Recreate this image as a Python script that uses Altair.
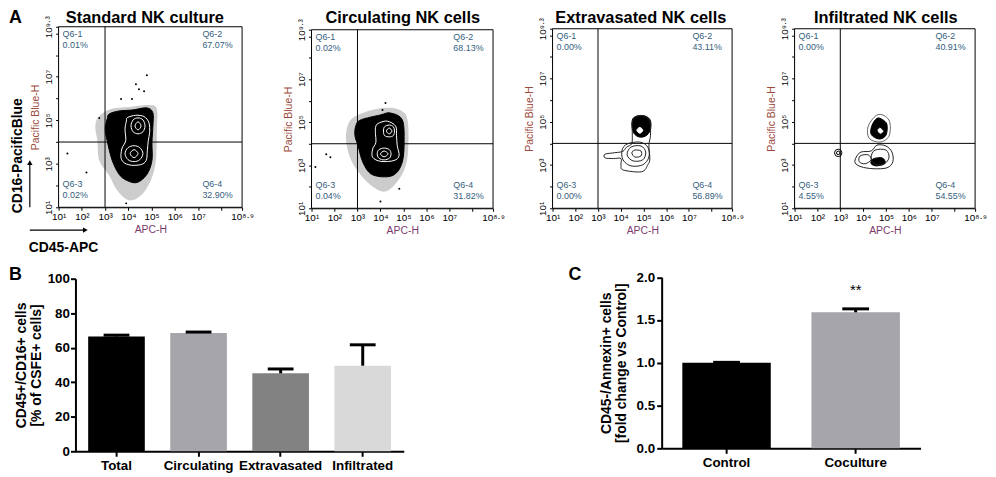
import altair as alt
import pandas as pd

W, H = 988, 469
FONT = "Liberation Sans"

# ---------------- Panel A: values ----------------
flow_titles = ["Standard NK culture", "Circulating NK cells",
               "Extravasated NK cells", "Infiltrated NK cells"]
q1_pct = ["0.01%", "0.02%", "0.00%", "0.00%"]
q2_pct = ["67.07%", "68.13%", "43.11%", "40.91%"]
q3_pct = ["0.02%", "0.04%", "0.00%", "4.55%"]
q4_pct = ["32.90%", "31.82%", "56.89%", "54.55%"]
gate_x = [3.0, 3.0, 3.0, 3.0]      # log10(APC-H) gate
gate_y = [4.0, 4.0, 4.0, 4.0]      # log10(Pacific Blue-H) gate
x_ticks = [1, 2, 3, 4, 5, 6, 7, 8, 8.9]
x_tick_labels = ["10¹", "10²", "10³", "10⁴", "10⁵", "10⁶", "10⁷", "", "10⁸·⁹"]
y_ticks = [1, 2, 3, 4, 5, 6, 7, 8, 9, 9.3]
y_tick_labels = ["10¹", "", "10³", "", "10⁵", "", "10⁷", "", "", "10⁹·³"]

# contour outlines, in decades (log10 of intensity)
p1_halo_x = [2.75, 3.26, 4.03, 4.89, 5.23, 5.23, 5.19, 4.97, 4.55, 4.03, 3.52, 3.18, 2.75, 2.67, 2.58]
p1_halo_y = [5.20, 5.52, 5.61, 5.70, 5.52, 4.52, 3.15, 2.23, 1.55, 1.32, 1.78, 2.46, 3.15, 4.06, 4.74]
p1_blob_x = [3.09, 3.18, 3.61, 4.16, 4.80, 5.06, 5.06, 5.02, 5.02, 4.80, 4.38, 3.95, 3.61, 3.31, 3.09, 3.01]
p1_blob_y = [5.06, 5.29, 5.43, 5.47, 5.57, 5.34, 4.74, 3.97, 3.15, 2.51, 2.14, 2.23, 2.51, 3.15, 4.06, 4.61]
p1_outer_x = [3.96, 4.32, 4.68, 4.89, 4.92, 4.86, 4.82, 4.77, 4.53, 4.03, 3.71, 3.72, 3.89, 3.86, 3.92]
p1_outer_y = [5.12, 5.23, 5.17, 4.89, 4.44, 4.06, 3.60, 3.15, 2.96, 2.95, 3.19, 3.68, 4.06, 4.59, 4.97]
p1_up1_x = [4.42, 4.63, 4.72, 4.63, 4.42, 4.21, 4.12, 4.21]
p1_up1_y = [5.11, 5.02, 4.74, 4.47, 4.38, 4.47, 4.74, 5.02]
p1_up2_x = [4.42, 4.55, 4.42, 4.29]
p1_up2_y = [4.93, 4.74, 4.56, 4.74]
p1_lo1_x = [4.25, 4.50, 4.63, 4.50, 4.25, 3.99, 3.86, 3.99]
p1_lo1_y = [3.83, 3.74, 3.47, 3.19, 3.10, 3.19, 3.47, 3.74]
p1_lo2_x = [4.25, 4.42, 4.25, 4.08]
p1_lo2_y = [3.65, 3.47, 3.28, 3.47]
p1_dots_x = [4.33, 4.80, 4.68, 4.46, 3.69, 4.16, 1.38, 2.20, 2.75, 3.91]
p1_dots_y = [6.66, 7.07, 6.34, 6.43, 5.98, 5.98, 3.47, 2.60, 5.11, 1.18]

p2_halo_x = [2.67, 3.23, 4.09, 4.73, 5.16, 5.21, 5.08, 4.73, 4.22, 3.66, 3.10, 2.67, 2.50]
p2_halo_y = [5.06, 5.43, 5.66, 5.61, 5.20, 3.83, 2.92, 2.23, 1.78, 2.00, 2.60, 3.37, 4.29]
p2_blob_x = [2.93, 3.15, 4.00, 4.43, 4.95, 5.03, 4.95, 4.65, 4.18, 3.58, 3.23, 3.02, 2.89]
p2_blob_y = [4.84, 5.11, 5.34, 5.43, 5.11, 4.06, 3.15, 2.60, 2.46, 2.60, 3.15, 3.92, 4.38]
p2_outer_x = [3.95, 4.30, 4.66, 4.70, 4.73, 4.81, 4.59, 4.02, 3.66, 3.66, 3.80, 3.78, 3.80]
p2_outer_y = [4.97, 5.05, 4.82, 4.37, 3.91, 3.45, 3.22, 3.18, 3.37, 3.75, 4.06, 4.52, 4.82]
p2_up1_x = [4.38, 4.56, 4.61, 4.56, 4.38, 4.18, 4.13, 4.18]
p2_up1_y = [4.87, 4.79, 4.59, 4.38, 4.32, 4.38, 4.59, 4.79]
p2_up2_x = [4.38, 4.50, 4.38, 4.26]
p2_up2_y = [4.73, 4.59, 4.46, 4.59]
p2_lo1_x = [4.16, 4.39, 4.46, 4.39, 4.16, 3.93, 3.86, 3.93]
p2_lo1_y = [3.80, 3.72, 3.53, 3.33, 3.25, 3.33, 3.53, 3.72]
p2_lo2_x = [4.16, 4.33, 4.16, 4.00]
p2_lo2_y = [3.66, 3.53, 3.39, 3.53]
p2_dots_x = [4.22, 4.09, 1.64, 1.82, 1.17, 4.00, 4.82]
p2_dots_y = [5.89, 5.57, 3.51, 3.37, 2.92, 1.32, 1.91]

p3_outer_x = [4.11, 4.92, 5.19, 5.28, 5.24, 5.31, 5.28, 5.06, 4.70, 4.51, 4.51, 4.48, 4.26, 4.09, 3.75, 3.31, 3.31, 3.68, 4.01, 4.01]
p3_outer_y = [2.77, 2.69, 3.01, 3.28, 3.92, 4.38, 4.97, 5.25, 5.25, 4.97, 4.38, 3.98, 3.83, 3.63, 3.57, 3.50, 3.33, 3.30, 3.30, 3.00]
p3_dense_x = [4.58, 4.97, 5.28, 5.32, 5.15, 4.84, 4.58, 4.49]
p3_dense_y = [5.20, 5.29, 5.11, 4.70, 4.38, 4.29, 4.47, 4.88]
p3_inner_x = [4.67, 5.15, 5.19, 4.89, 4.62]
p3_inner_y = [5.06, 5.02, 4.61, 4.42, 4.65]
p3_hole_x = [4.84, 4.97, 4.84, 4.71]
p3_hole_y = [4.74, 4.61, 4.47, 4.61]
p3_ringa_x = [4.28, 4.84, 5.19, 5.24, 4.97, 4.45, 4.10, 4.06]
p3_ringa_y = [3.97, 4.06, 3.83, 3.37, 3.01, 2.96, 3.24, 3.69]
p3_ringb_x = [4.45, 4.89, 5.10, 4.97, 4.54, 4.28]
p3_ringb_y = [3.83, 3.88, 3.60, 3.24, 3.19, 3.47]
p3_ringc_x = [4.62, 4.89, 4.89, 4.62, 4.49]
p3_ringc_y = [3.69, 3.65, 3.42, 3.37, 3.56]

p4_updense_x = [4.61, 4.83, 5.04, 5.00, 4.70, 4.35, 4.39]
p4_updense_y = [5.16, 5.11, 4.88, 4.38, 4.20, 4.42, 4.84]
p4_upouter_x = [4.57, 4.91, 5.17, 5.13, 4.74, 4.26, 4.22]
p4_upouter_y = [5.29, 5.29, 4.97, 4.33, 4.06, 4.24, 4.79]
p4_uphole_x = [4.74, 4.87, 4.74, 4.65]
p4_uphole_y = [4.70, 4.56, 4.47, 4.61]
p4_loouter_x = [3.70, 3.91, 4.35, 4.61, 5.00, 5.26, 5.30, 5.04, 4.43, 3.91, 3.65]
p4_loouter_y = [3.37, 3.60, 3.65, 3.92, 3.88, 3.60, 3.15, 2.87, 2.83, 2.92, 3.10]
p4_loleft_x = [3.87, 4.22, 4.35, 4.09, 3.83]
p4_loleft_y = [3.42, 3.47, 3.24, 3.06, 3.15]
p4_loright_x = [4.52, 5.00, 5.13, 4.87, 4.48, 4.35]
p4_loright_y = [3.69, 3.69, 3.33, 3.01, 3.06, 3.37]
p4_lodense_x = [4.43, 4.83, 4.96, 4.61, 4.35]
p4_lodense_y = [3.28, 3.33, 3.10, 2.96, 3.06]
p4_event_x = [2.91]
p4_event_y = [3.56]

# ---------------- Panel B / C values ----------------
b_cats = ["Total", "Circulating", "Extravasated", "Infiltrated"]
b_vals = [66.5, 68.5, 45.2, 49.6]
b_errs = [0.8, 0.6, 2.5, 12.1]
b_colors = ["#000000", "#a5a5aa", "#828282", "#d9d9d9"]

c_cats = ["Control", "Coculture"]
c_vals = [1.0, 1.59]
c_errs = [0.005, 0.04]
c_colors = ["#000000", "#a5a5aa"]
c_sig = ["", "**"]

# ---------------- layout (svg pixels) ----------------
FL = [51, 306, 549, 793]
FR = [236, 489, 730, 975]
FT = [17, 20, 19, 19]
FB = [199, 200, 200, 200]
TITLE_X = [138, 398, 638, 885]
QUAD = "#35607e"

DUMMY = pd.DataFrame({"d": [0]})


def label(text, x, y, size=10, weight="normal", color="black", align="left",
          baseline="alphabetic", angle=0, line_height=11):
    return alt.Chart(DUMMY).mark_text(
        text=text, font=FONT, fontSize=size, fontWeight=weight, color=color,
        align=align, baseline=baseline, angle=angle, lineBreak="\n",
        lineHeight=line_height,
    ).encode(x=alt.value(x), y=alt.value(y))


def shapes_df(shapes):
    rows = []
    for sid, (xs, ys) in enumerate(shapes):
        for i, (x, y) in enumerate(zip(xs, ys)):
            rows.append({"sid": sid, "i": i, "x": x, "y": y})
    return pd.DataFrame(rows)


def sup_expr(vals, labs):
    expr = "''"
    for v, l in zip(reversed(vals), reversed(labs)):
        expr = f"abs(datum.value-{v})<0.01 ? '{l}' : ({expr})"
    return expr


def flow_panel(k, halos=(), blobs=(), lines=(), line_color="white",
               holes=(), dots=None, events=None, extra_black_lines=()):
    xs = alt.Scale(domain=[1, 8.9], range=[FL[k], FR[k]], nice=False, zero=False)
    ys = alt.Scale(domain=[1, 9.3], range=[FB[k], FT[k]], nice=False, zero=False)
    xax = alt.Axis(orient="bottom", offset=FB[k] - H, values=x_ticks,
                   labelExpr=sup_expr(x_ticks, x_tick_labels), grid=False,
                   tickSize=3, tickColor="black", domainColor="black",
                   labelFont=FONT, labelFontSize=10, labelColor="black",
                   labelPadding=1, labelFlush=False, labelOverlap=False,
                   title="APC-H", titleFont=FONT, titleFontSize=10.5,
                   titleFontWeight="normal", titleColor="#7d3b6c", titlePadding=3)
    yax = alt.Axis(orient="left", offset=-FL[k], values=y_ticks,
                   labelExpr=sup_expr(y_ticks, y_tick_labels), grid=False,
                   tickSize=3, tickColor="black", domainColor="black",
                   labelFont=FONT, labelFontSize=10, labelColor="black",
                   labelAngle=270, labelPadding=2, labelOverlap=False,
                   title="Pacific Blue-H", titleFont=FONT, titleFontSize=10.5,
                   titleFontWeight="normal", titleColor="#9b4b3b", titlePadding=3)
    X = lambda f: alt.X(f, type="quantitative", scale=xs, axis=xax)
    Y = lambda f: alt.Y(f, type="quantitative", scale=ys, axis=yax)

    frame = pd.DataFrame({"x0": [1.0], "x1": [8.9], "y0": [1.0], "y1": [9.3]})
    layers = [alt.Chart(frame).mark_rect(fill="white", strokeWidth=0).encode(
        x=X("x0"), x2="x1", y=Y("y0"), y2="y1")]

    def poly(shapes, **kw):
        return alt.Chart(shapes_df(shapes)).mark_line(
            interpolate="cardinal-closed", **kw).encode(
            x=X("x"), y=Y("y"), detail="sid:N", order="i:Q")

    if halos:
        layers.append(poly(halos, fill="#555555", fillOpacity=0.3, strokeWidth=0, color="#555555"))
    if blobs:
        layers.append(poly(blobs, fill="black", color="black", strokeWidth=1))
    gates = pd.DataFrame({"gx": [gate_x[k]], "gy": [gate_y[k]], "lo_x": [1.0], "hi_x": [8.9],
                          "lo_y": [1.0], "hi_y": [9.3]})
    layers.append(alt.Chart(gates).mark_rule(color="black", strokeWidth=1).encode(
        x=X("gx"), y=Y("lo_y"), y2="hi_y"))
    layers.append(alt.Chart(gates).mark_rule(color="black", strokeWidth=1).encode(
        y=Y("gy"), x=X("lo_x"), x2="hi_x"))
    if lines:
        layers.append(poly(lines, color=line_color, strokeWidth=1))
    if extra_black_lines:
        layers.append(poly(extra_black_lines, color="#666666", strokeWidth=1))
    if holes:
        layers.append(poly(holes, fill="white", color="white", strokeWidth=1))
    if dots is not None:
        layers.append(alt.Chart(pd.DataFrame({"x": dots[0], "y": dots[1]})).mark_circle(
            size=4, color="black", opacity=1).encode(x=X("x"), y=Y("y")))
    if events is not None:
        ev = pd.DataFrame({"x": events[0], "y": events[1]})
        layers.append(alt.Chart(ev).mark_point(shape="circle", size=55, color="black",
                                               strokeWidth=1, filled=False, opacity=1).encode(
            x=X("x"), y=Y("y")))
        layers.append(alt.Chart(ev).mark_point(shape="circle", size=12, color="black",
                                               strokeWidth=1, filled=False, opacity=1).encode(
            x=X("x"), y=Y("y")))
    layers.append(alt.Chart(frame).mark_rect(fillOpacity=0, stroke="black", strokeWidth=1).encode(
        x=X("x0"), x2="x1", y=Y("y0"), y2="y1"))

    # texts
    layers.append(label(flow_titles[k], TITLE_X[k], 13, size=16.5, weight="bold", align="center"))
    layers.append(label(f"Q6-1\n{q1_pct[k]}", FL[k] + 4, FT[k] + 10, size=9, color=QUAD))
    layers.append(label(f"Q6-2\n{q2_pct[k]}", FR[k] - 40, FT[k] + 10, size=9, color=QUAD))
    layers.append(label(f"Q6-3\n{q3_pct[k]}", FL[k] + 4, FB[k] - 20, size=9, color=QUAD))
    layers.append(label(f"Q6-4\n{q4_pct[k]}", FR[k] - 40, FB[k] - 20, size=9, color=QUAD))
    return alt.layer(*layers)


panel1 = flow_panel(
    0, halos=[(p1_halo_x, p1_halo_y)], blobs=[(p1_blob_x, p1_blob_y)],
    lines=[(p1_outer_x, p1_outer_y), (p1_up1_x, p1_up1_y), (p1_up2_x, p1_up2_y),
           (p1_lo1_x, p1_lo1_y), (p1_lo2_x, p1_lo2_y)],
    line_color="white", dots=(p1_dots_x, p1_dots_y))
panel2 = flow_panel(
    1, halos=[(p2_halo_x, p2_halo_y)], blobs=[(p2_blob_x, p2_blob_y)],
    lines=[(p2_outer_x, p2_outer_y), (p2_up1_x, p2_up1_y), (p2_up2_x, p2_up2_y),
           (p2_lo1_x, p2_lo1_y), (p2_lo2_x, p2_lo2_y)],
    line_color="white", dots=(p2_dots_x, p2_dots_y))
panel3 = flow_panel(
    2, blobs=[(p3_dense_x, p3_dense_y)],
    lines=[(p3_outer_x, p3_outer_y), (p3_ringa_x, p3_ringa_y), (p3_ringb_x, p3_ringb_y),
           (p3_ringc_x, p3_ringc_y)],
    line_color="#222222", holes=[(p3_hole_x, p3_hole_y)])
panel4 = flow_panel(
    3, blobs=[(p4_updense_x, p4_updense_y), (p4_lodense_x, p4_lodense_y)],
    lines=[(p4_loouter_x, p4_loouter_y), (p4_loleft_x, p4_loleft_y), (p4_loright_x, p4_loright_y)],
    line_color="#222222", extra_black_lines=[(p4_upouter_x, p4_upouter_y)],
    holes=[(p4_uphole_x, p4_uphole_y)], events=(p4_event_x, p4_event_y))

# ---- panel A side annotations ----
annot = alt.layer(
    label("A", 1, 13, size=18, weight="bold"),
    label("CD16-PacificBlue", 10, 147, size=14, weight="bold", align="center",
          baseline="middle", angle=270),
    alt.Chart(DUMMY).mark_rule(color="black", strokeWidth=1.2).encode(
        x=alt.value(22), y=alt.value(199), y2=alt.value(156)),
    alt.Chart(DUMMY).mark_point(shape="triangle-up", filled=True, size=30, color="black",
                                opacity=1).encode(x=alt.value(22), y=alt.value(154)),
    alt.Chart(DUMMY).mark_rule(color="black", strokeWidth=1.2).encode(
        x=alt.value(22), x2=alt.value(76), y=alt.value(222)),
    alt.Chart(DUMMY).mark_point(shape="triangle-right", filled=True, size=30, color="black",
                                opacity=1).encode(x=alt.value(78), y=alt.value(222)),
    label("CD45-APC", 21, 244, size=14, weight="bold"),
    label("B", 1, 272, size=18, weight="bold"),
    label("C", 565, 272, size=18, weight="bold"),
)

# ---------------- Panel B ----------------
b_df = pd.DataFrame({"cat": b_cats, "val": b_vals, "err": b_errs, "col": b_colors})
b_df["hi"] = b_df["val"] + b_df["err"]
bxs = alt.Scale(domain=b_cats, range=[68, 399], paddingInner=0.31, paddingOuter=0.155)
bys = alt.Scale(domain=[0, 100], range=[445, 271], nice=False, zero=True)
bxa = alt.Axis(orient="bottom", offset=445 - H, title=None, labelAngle=0, labelFont=FONT,
               labelFontSize=13.5, labelFontWeight="bold", labelColor="black",
               tickSize=5, tickWidth=2, tickColor="black", domainWidth=2,
               domainColor="black", labelPadding=2, grid=False)
bya = alt.Axis(orient="left", offset=-68, values=[0, 20, 40, 60, 80, 100], grid=False,
               labelFont=FONT, labelFontSize=13.5, labelFontWeight="bold", labelColor="black",
               tickSize=5, tickWidth=2, tickColor="black", domainWidth=2, domainColor="black",
               labelPadding=1, title=["CD45+/CD16+ cells", "[% of CSFE+ cells]"],
               titleFont=FONT, titleFontSize=14, titleFontWeight="bold", titleColor="black",
               titlePadding=4, titleLineHeight=15)
BX = alt.X("cat:N", sort=b_cats, scale=bxs, axis=bxa)
panelB = alt.layer(
    alt.Chart(b_df).mark_bar().encode(
        x=BX, y=alt.Y("val:Q", scale=bys, axis=bya),
        color=alt.Color("cat:N", scale=alt.Scale(domain=b_cats, range=b_colors), legend=None)),
    alt.Chart(b_df).mark_rule(color="black", strokeWidth=3).encode(
        x=BX, y=alt.Y("val:Q", scale=bys, axis=bya), y2="hi:Q"),
    alt.Chart(b_df).mark_tick(color="black", thickness=3, size=26, opacity=1).encode(
        x=BX, y=alt.Y("hi:Q", scale=bys, axis=bya)),
)

# ---------------- Panel C ----------------
c_df = pd.DataFrame({"cat": c_cats, "val": c_vals, "err": c_errs, "sig": c_sig})
c_df["hi"] = c_df["val"] + c_df["err"]
cxs = alt.Scale(domain=c_cats, range=[659, 920], paddingInner=0.315, paddingOuter=0.16)
cys = alt.Scale(domain=[0, 2], range=[442, 269.5], nice=False, zero=True)
cxa = alt.Axis(orient="bottom", offset=442 - H, title=None, labelAngle=0, labelFont=FONT,
               labelFontSize=13.5, labelFontWeight="bold", labelColor="black",
               tickSize=5, tickWidth=2, tickColor="black", domainWidth=2,
               domainColor="black", labelPadding=2, grid=False)
cya = alt.Axis(orient="left", offset=-659, values=[0, 0.5, 1.0, 1.5, 2.0], format=".1f",
               grid=False, labelFont=FONT, labelFontSize=13.5, labelFontWeight="bold",
               labelColor="black", tickSize=5, tickWidth=2, tickColor="black",
               domainWidth=2, domainColor="black", labelPadding=2,
               title=["CD45-/Annexin+ cells", "[fold change vs Control]"],
               titleFont=FONT, titleFontSize=14, titleFontWeight="bold", titleColor="black",
               titlePadding=8, titleLineHeight=15)
CX = alt.X("cat:N", sort=c_cats, scale=cxs, axis=cxa)
panelC = alt.layer(
    alt.Chart(c_df).mark_bar().encode(
        x=CX, y=alt.Y("val:Q", scale=cys, axis=cya),
        color=alt.Color("cat:N", scale=alt.Scale(domain=c_cats, range=c_colors), legend=None)),
    alt.Chart(c_df).mark_rule(color="black", strokeWidth=3).encode(
        x=CX, y=alt.Y("val:Q", scale=cys, axis=cya), y2="hi:Q"),
    alt.Chart(c_df).mark_tick(color="black", thickness=3, size=27, opacity=1).encode(
        x=CX, y=alt.Y("hi:Q", scale=cys, axis=cya)),
    alt.Chart(c_df).mark_text(font=FONT, fontSize=15, color="black", baseline="middle").encode(
        x=CX, y=alt.value(282), text="sig:N"),
)

chart = alt.layer(panel1, panel2, panel3, panel4, panelB, panelC, annot).resolve_scale(
    x="independent", y="independent", color="independent"
).resolve_axis(x="independent", y="independent").properties(
    width=W, height=H, autosize=alt.AutoSizeParams(type="none"), padding=0
).configure_view(stroke=None)

chart.save("out.html", embed_options={"renderer": "svg", "actions": False})
